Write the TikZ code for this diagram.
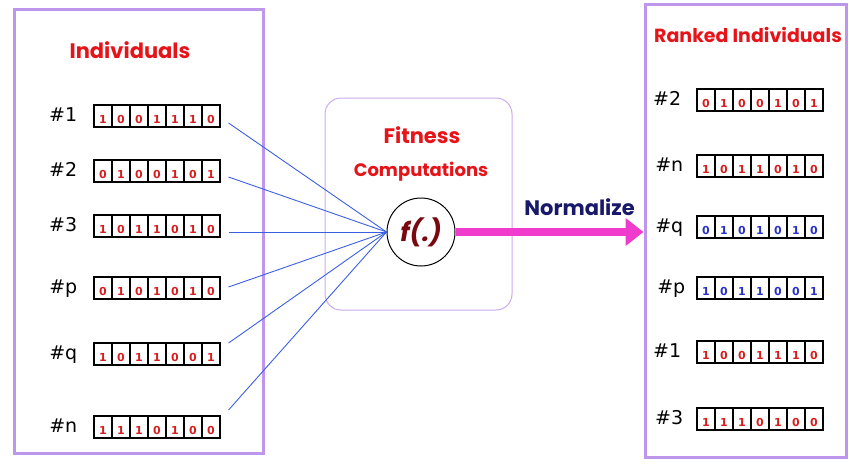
\documentclass[tikz,border=0pt]{standalone}
\usepackage{fontspec}
\setmainfont{DejaVu Sans}
\newfontfamily\comic{Poppins}
\usetikzlibrary{positioning,arrows.meta}

\definecolor{lavender}{RGB}{190,150,235}
\definecolor{titlered}{RGB}{230,20,25}
\definecolor{bitred}{RGB}{215,30,30}
\definecolor{bitblue}{RGB}{40,50,200}
\definecolor{wireblue}{RGB}{60,95,225}
\definecolor{hotpink}{RGB}{240,60,205}
\definecolor{navy}{RGB}{25,25,105}
\definecolor{fred}{RGB}{120,10,15}

\tikzset{
  panel/.style={draw=lavender, line width=3pt, inner sep=0pt},
  fitbox/.style={draw=lavender!80, line width=1pt, rounded corners=16pt, inner sep=0pt,
                 minimum width=187pt, minimum height=212pt},
  title/.style={text=titlered, font=\comic\bfseries\fontsize{#1}{#1}\selectfont},
  tag/.style={font=\fontsize{19}{20}\selectfont, inner sep=0pt, text height=14pt, text depth=4pt},
  cell/.style={draw, line width=1.1pt, inner sep=0pt, minimum width=18pt, minimum height=22pt,
               text height=15pt, text depth=0pt, font=\bfseries\fontsize{11}{11}\selectfont},
  wire/.style={draw=wireblue, line width=0.9pt},
  normarrow/.style={draw=hotpink, line width=8pt, -{Triangle[width=27pt,length=18pt]}},
  pics/chrom/.style 2 args={code={
      \foreach \b [count=\i] in {#2}
        \node[cell, text=#1] (-c\i) at (\i*18-72, 0) {\b};
  }}
}

\begin{document}
\begin{tikzpicture}[x=1pt, y=-1pt]
    \useasboundingbox (0,0) rectangle (849,466);

    % population
    \node[panel, minimum width=249pt, minimum height=444pt] (pop) at (138.5,231) {};
    \node[title=21] (poptitle) at (130,50) {Individuals};

    \path (157,116) pic (c1) {chrom={bitred}{1,0,0,1,1,1,0}};
    \path (157,171) pic (c2) {chrom={bitred}{0,1,0,0,1,0,1}};
    \path (157,226) pic (c3) {chrom={bitred}{1,0,1,1,0,1,0}};
    \path (157,288) pic (cp) {chrom={bitred}{0,1,0,1,0,1,0}};
    \path (157,354) pic (cq) {chrom={bitred}{1,0,1,1,0,0,1}};
    \path (157,427) pic (cn) {chrom={bitred}{1,1,1,0,1,0,0}};

    \node[tag, left=16pt of c1-c1] (t1) {\#1};
    \node[tag, left=16pt of c2-c1] (t2) {\#2};
    \node[tag, left=16pt of c3-c1] (t3) {\#3};
    \node[tag, left=16pt of cp-c1] (tp) {\#p};
    \node[tag, left=16pt of cq-c1] (tq) {\#q};
    \node[tag, left=16pt of cn-c1] (tn) {\#n};

    % fitness
    \node[fitbox] (fitness) at (418.5,204) {};
    \node[title=21] (fittitle) at (422,135) {Fitness};
    \node[title=18] (comptitle) at (421,172) {Computations};
    \node[draw, circle, line width=1pt, minimum size=68pt, inner sep=0pt, text=fred,
          font=\comic\bfseries\itshape\fontsize{26}{26}\selectfont] (f) at (421,232) {f(.)};

    \draw[wire] ([shift={(8,7)}]c1-c7.east) -- (f.west);
    \draw[wire] ([shift={(8,6)}]c2-c7.east) -- (f.west);
    \draw[wire] ([shift={(8,6)}]c3-c7.east) -- (f.west);
    \draw[wire] ([shift={(8,-1)}]cp-c7.east) -- (f.west);
    \draw[wire] ([shift={(8,-11)}]cq-c7.east) -- (f.west);
    \draw[wire] ([shift={(8,-17)}]cn-c7.east) -- (f.west);

    % ranked
    \node[panel, minimum width=201pt, minimum height=453pt] (ranked) at (745.5,230.5) {};
    \node[title=19] (rankedtitle) at (748,35) {Ranked Individuals};

    \path (760,100) pic (r2) {chrom={bitred}{0,1,0,0,1,0,1}};
    \path (760,166) pic (rn) {chrom={bitred}{1,0,1,1,0,1,0}};
    \path (760,227) pic (rq) {chrom={bitblue}{0,1,0,1,0,1,0}};
    \path (760,288) pic (rp) {chrom={bitblue}{1,0,1,1,0,0,1}};
    \path (760,352) pic (r1) {chrom={bitred}{1,0,0,1,1,1,0}};
    \path (760,419) pic (r3) {chrom={bitred}{1,1,1,0,1,0,0}};

    \node[tag, left=15pt of r2-c1] (s2) {\#2};
    \node[tag, left=13pt of rn-c1] (sn) {\#n};
    \node[tag, left=13pt of rq-c1] (sq) {\#q};
    \node[tag, left=11pt of rp-c1] (sp) {\#p};
    \node[tag, left=15pt of r1-c1] (s1) {\#1};
    \node[tag, left=13pt of r3-c1] (s3) {\#3};

    % normalize
    \draw[normarrow] (f.east) -- (ranked.west |- f.east)
        node[pos=0.66, above=9pt, text=navy, font=\comic\bfseries\fontsize{21}{21}\selectfont] (norm) {Normalize};
\end{tikzpicture}
\end{document}
